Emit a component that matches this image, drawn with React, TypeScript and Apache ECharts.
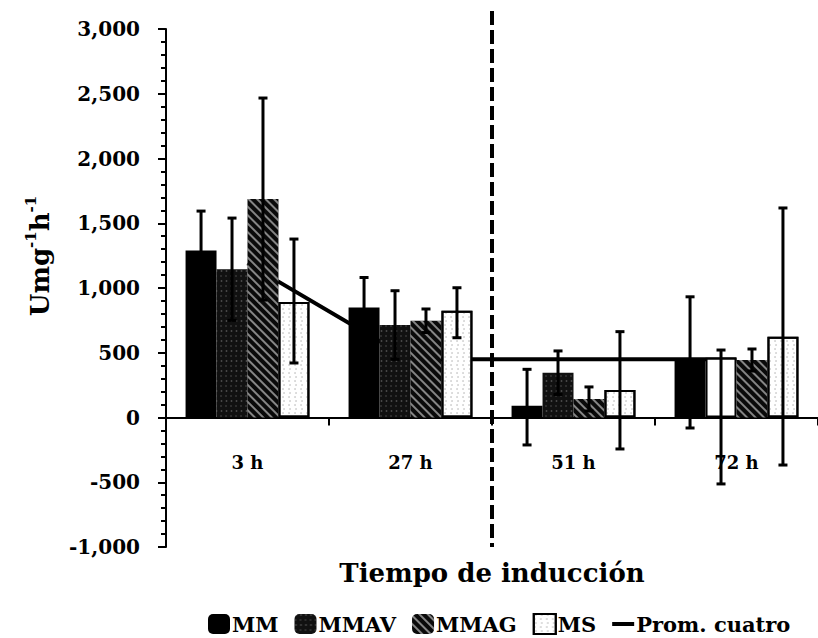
import React, { useEffect, useRef } from 'react';
import * as echarts from 'echarts';

const categories = ['3 h', '27 h', '51 h', '72 h'];
const barNames = ['MM', 'MMAV', 'MMAG', 'MS'];
const lineName = 'Prom. cuatro';

const mmValues = [1290, 850, 90, 459];
const mmavValues = [1145, 714, 346, 462];
const mmagValues = [1687, 747, 143, 444];
const msValues = [892, 825, 212, 624];

const mmLow = [990, 619, -212, -81];
const mmHigh = [1594, 1081, 372, 932];
const mmavLow = [750, 449, 178, -513];
const mmavHigh = [1540, 979, 514, 521];
const mmagLow = [907, 656, 50, 359];
const mmagHigh = [2467, 838, 236, 529];
const msLow = [421, 616, -243, -367];
const msHigh = [1378, 1002, 663, 1618];

const promValues = [1190, 450, 450, 450];

const yTicks = [-1000, -500, 0, 500, 1000, 1500, 2000, 2500, 3000];

const FONT = '"DejaVu Serif", "Liberation Serif", serif';

export default function App() {
  const ref = useRef<HTMLDivElement>(null);
  useEffect(() => {
    if (!ref.current) return;
    const chart = echarts.init(ref.current, undefined, { renderer: 'svg' });

    const values = [mmValues, mmavValues, mmagValues, msValues];
    const lows = [mmLow, mmavLow, mmagLow, msLow];
    const highs = [mmHigh, mmavHigh, mmagHigh, msHigh];

    const barStyles: any[] = [
      { color: '#000' },
      {
        color: '#111',
        decal: {
          symbol: 'rect',
          symbolSize: 0.5,
          color: 'rgba(255,255,255,0.45)',
          dashArrayX: [[2, 3], [3, 2]],
          dashArrayY: [2, 3],
        },
      },
      {
        color: '#0a0a0a',
        decal: {
          symbol: 'rect',
          symbolSize: 1,
          rotation: Math.PI / 4,
          color: 'rgba(255,255,255,0.5)',
          dashArrayX: [[1, 0]],
          dashArrayY: [2, 4],
        },
      },
      {
        color: '#fff',
        borderColor: '#000',
        borderWidth: 2,
        decal: {
          symbol: 'circle',
          symbolSize: 0.6,
          color: 'rgba(90,90,90,0.6)',
          dashArrayX: [[2, 4], [4, 2]],
          dashArrayY: [2, 2],
        },
      },
    ];

    const barSeries = barNames.map((name, k) => ({
      name,
      type: 'bar',
      data: values[k].map((v, i) =>
        k === 1 && i === 3
          ? { value: v, itemStyle: { color: '#fff', borderColor: '#000', borderWidth: 2, decal: 'none' } }
          : v
      ),
      barWidth: '19%',
      barGap: '0%',
      itemStyle: barStyles[k],
      z: 3,
    }));

    const errData: number[][] = [];
    barNames.forEach((_, k) => {
      categories.forEach((_, i) => {
        errData.push([i, lows[k][i], highs[k][i], k]);
      });
    });

    const option: any = {
      animation: false,
      textStyle: { fontFamily: FONT },
      grid: { left: 166, right: 0, top: 29, bottom: 91, containLabel: false, outerBoundsMode: 'none' },
      legend: {
        left: 203,
        top: 608,
        itemWidth: 22,
        itemHeight: 20,
        itemGap: 16,
        textStyle: {
          fontFamily: FONT,
          fontWeight: 'bold',
          fontSize: 21,
          lineHeight: 20,
          color: '#000',
          padding: [0, 0, 0, -3],
        },
        data: [
          { name: 'MM', icon: 'roundRect' },
          { name: 'MMAV', icon: 'roundRect' },
          { name: 'MMAG', icon: 'roundRect' },
          { name: 'MS', icon: 'rect' },
          { name: lineName, icon: 'path://M0,0 L22,0 L22,4 L0,4 Z' },
        ],
      },
      xAxis: {
        type: 'category',
        data: categories,
        axisLine: { onZero: true, lineStyle: { color: '#000', width: 2 } },
        axisTick: { show: true, length: 8, lineStyle: { color: '#000', width: 2 } },
        axisLabel: { color: '#000', fontFamily: FONT, fontWeight: 'bold', fontSize: 18, margin: -94 },
        name: 'Tiempo de inducción',
        nameLocation: 'middle',
        nameGap: 13,
        nameTextStyle: { color: '#000', fontFamily: FONT, fontWeight: 'bold', fontSize: 26 },
      },
      yAxis: {
        type: 'value',
        min: yTicks[0],
        max: yTicks[yTicks.length - 1],
        interval: 500,
        splitLine: { show: false },
        axisLine: { show: true, lineStyle: { color: '#000', width: 2 } },
        axisTick: { show: true, length: 8, lineStyle: { color: '#000', width: 2 } },
        minorTick: { show: true, splitNumber: 5, length: 5, lineStyle: { color: '#000', width: 2 } },
        axisLabel: {
          color: '#000',
          fontFamily: FONT,
          fontWeight: 'bold',
          fontSize: 20,
          margin: 26,
          formatter: (v: number) => v.toLocaleString('en-US'),
        },
      },
      series: [
        {
          name: lineName,
          type: 'line',
          data: promValues,
          symbol: 'none',
          showSymbol: false,
          lineStyle: { color: '#000', width: 4 },
          itemStyle: { color: '#000' },
          z: 2,
        },
        ...barSeries,
        {
          name: 'err',
          type: 'custom',
          data: errData,
          encode: { x: 0, y: [1, 2] },
          z: 5,
          silent: true,
          renderItem: (params: any, api: any) => {
            const cat = api.value(0);
            const low = api.value(1);
            const high = api.value(2);
            const k = api.value(3);
            const band = api.size([1, 0])[0];
            const barW = band * 0.19;
            const cx = api.coord([cat, 0])[0] - 2 * barW + (k + 0.5) * barW;
            const yl = api.coord([cat, low])[1];
            const yh = api.coord([cat, high])[1];
            const cap = 4.5;
            const st = { stroke: '#000', lineWidth: 3 };
            return {
              type: 'group',
              children: [
                { type: 'line', shape: { x1: cx, y1: yh, x2: cx, y2: yl }, style: st },
                { type: 'line', shape: { x1: cx - cap, y1: yh, x2: cx + cap, y2: yh }, style: st },
                { type: 'line', shape: { x1: cx - cap, y1: yl, x2: cx + cap, y2: yl }, style: st },
              ],
            };
          },
        },
      ],
      graphic: [
        {
          id: 'ytitle',
          type: 'text',
          x: 38,
          y: 256,
          rotation: Math.PI / 2,
          style: {
            text: '{a|Umg}{s|-1}{a|h}{s|-1}',
            align: 'center',
            verticalAlign: 'middle',
            fill: '#000',
            rich: {
              a: { fontFamily: FONT, fontWeight: 'bold', fontSize: 26, fill: '#000', lineHeight: 30, verticalAlign: 'bottom' },
              s: { fontFamily: FONT, fontWeight: 'bold', fontSize: 15, fill: '#000', lineHeight: 30, verticalAlign: 'top' },
            },
          },
        },
      ],
    };

    chart.setOption(option);

    const x1 = chart.convertToPixel({ xAxisIndex: 0 }, 1) as number;
    const x2 = chart.convertToPixel({ xAxisIndex: 0 }, 2) as number;
    const sepX = (x1 + x2) / 2;
    const yTop = chart.convertToPixel({ yAxisIndex: 0 }, yTicks[yTicks.length - 1]) as number;
    const yBot = chart.convertToPixel({ yAxisIndex: 0 }, yTicks[0]) as number;
    chart.setOption({
      graphic: [
        {
          id: 'sep',
          type: 'line',
          z: 10,
          shape: { x1: sepX, y1: yTop - 18, x2: sepX, y2: yBot },
          style: { stroke: '#000', lineWidth: 4, lineDash: [14, 5] },
        },
      ],
    });

    return () => chart.dispose();
  }, []);

  return (
    <div
      ref={ref}
      style={{ position: 'absolute', left: 0, top: 0, width: 818, height: 638, background: '#fff' }}
    />
  );
}
